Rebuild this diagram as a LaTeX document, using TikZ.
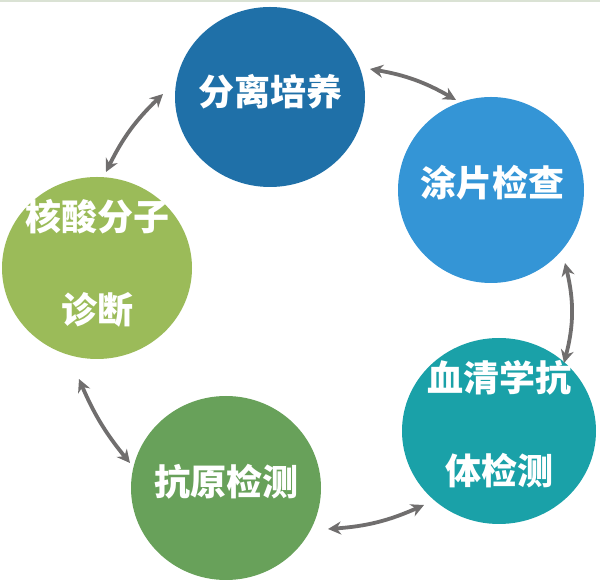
\documentclass[tikz,border=0pt]{standalone}
\usepackage{fontspec}
\newfontfamily\cjk{Noto Sans CJK SC}
\usetikzlibrary{shapes.geometric,arrows.meta,calc}
\definecolor{cA}{RGB}{31,112,168}
\definecolor{cB}{RGB}{52,149,214}
\definecolor{cC}{RGB}{26,161,168}
\definecolor{cD}{RGB}{104,161,90}
\definecolor{cE}{RGB}{155,187,89}
\definecolor{arr}{RGB}{112,110,110}
\definecolor{topline}{RGB}{218,226,212}
\begin{document}
\begin{tikzpicture}[x=1pt,y=1pt,
  blob/.style={shape=ellipse,inner sep=0pt,draw=none},
  lbl/.style={text=white,font=\cjk\bfseries\fontsize{36}{93}\selectfont,align=center,inner sep=0pt},
  link/.style={draw=arr,line width=3.8pt,{Stealth[length=13pt,width=13pt]}-{Stealth[length=13pt,width=13pt]}}]
\useasboundingbox (0,0) rectangle (600,586);
\fill[topline] (0,583.5) rectangle (600,586);
\node[blob,fill=cA,minimum width=190pt,minimum height=180pt] (A) at (270,489) {};
\node[blob,fill=cB,minimum width=186pt,minimum height=186pt] (B) at (491,396) {};
\node[blob,fill=cC,minimum width=194pt,minimum height=186pt] (C) at (499,155) {};
\node[blob,fill=cD,minimum width=190pt,minimum height=184pt] (D) at (226,98) {};
\node[blob,fill=cE,minimum width=190pt,minimum height=182pt] (E) at (97,318) {};
\node[lbl] (tA) at (270,494) {分离培养};
\node[lbl] (tB) at (492,403) {涂片检查};
\node[lbl] (tC) at (499,161.5) {血清学抗\\体检测};
\node[lbl] (tD) at (226,104) {抗原检测};
\node[lbl] (tE) at (97,323) {核酸分子\\诊断};
% connector ends, placed relative to the circles
\coordinate (a1) at ($(A.center)+(100,28)$);
\coordinate (b1) at ($(B.center)+(-35,90)$);
\coordinate (b3) at ($(B.center)+(74,-73)$);
\coordinate (c3) at ($(C.center)+(65,68)$);
\coordinate (c5) at ($(C.center)+(-75,-74)$);
\coordinate (d5) at ($(D.center)+(102,-41)$);
\coordinate (d4) at ($(D.center)+(-96,25)$);
\coordinate (e4) at ($(E.center)+(-18,-111)$);
\coordinate (e2) at ($(E.center)+(9,96)$);
\coordinate (a2) at ($(A.center)+(-107,3)$);
\draw[link] (a1) to[bend left=10] (b1);
\draw[link] (b3) to[bend left=14] (c3);
\draw[link] (c5) to[bend left=10] (d5);
\draw[link] (d4) to[bend left=8] (e4);
\draw[link] (e2) to[bend left=10] (a2);
\end{tikzpicture}
\end{document}
